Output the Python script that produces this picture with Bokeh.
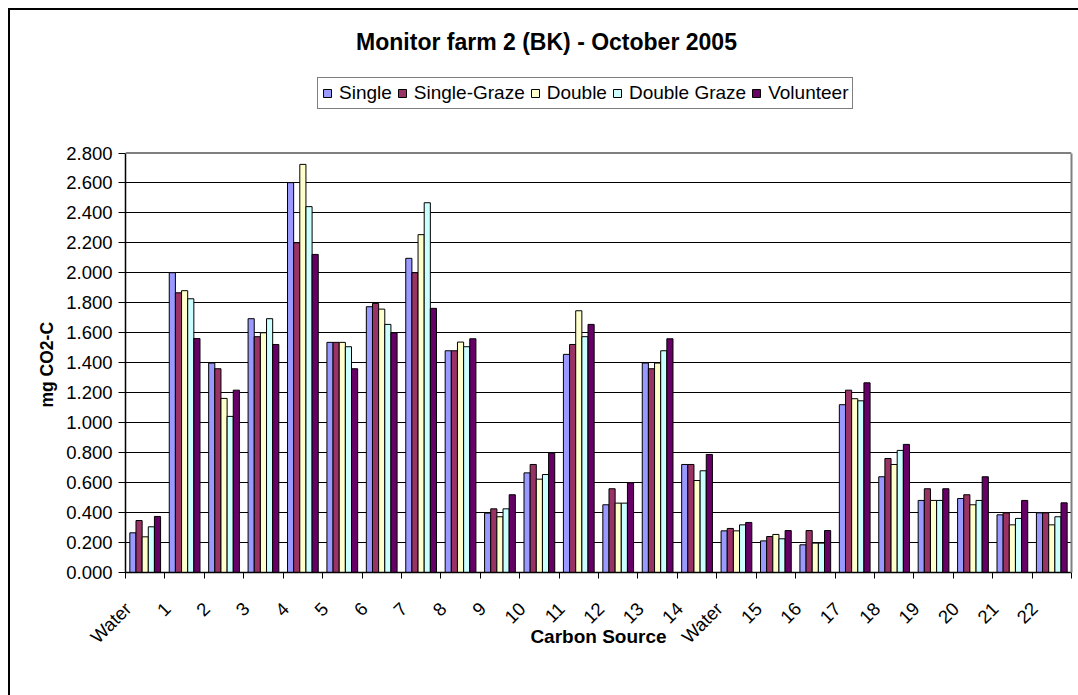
import numpy as np
from bokeh.plotting import figure
from bokeh.models import (FixedTicker, NumeralTickFormatter, Range1d, Legend, LegendItem,
                          Label, Span, LinearAxis, Title)
from bokeh.embed import file_html
from bokeh.resources import INLINE

# ---- data -------------------------------------------------------------
categories = ["Water", "1", "2", "3", "4", "5", "6", "7", "8", "9", "10", "11",
              "12", "13", "14", "Water", "15", "16", "17", "18", "19", "20", "21", "22"]
series_names = ["Single", "Single-Graze", "Double", "Double Graze", "Volunteer"]
single       = [0.265, 2.001, 1.398, 1.694, 2.602, 1.536, 1.774, 2.097, 1.480, 0.396, 0.665, 1.456,
                0.452, 1.398, 0.721, 0.278, 0.211, 0.185, 1.120, 0.639, 0.481, 0.494, 0.385, 0.398]
single_graze = [0.347, 1.867, 1.360, 1.574, 2.201, 1.536, 1.796, 2.001, 1.480, 0.425, 0.721, 1.522,
                0.559, 1.360, 0.721, 0.294, 0.240, 0.280, 1.217, 0.761, 0.559, 0.519, 0.398, 0.398]
double       = [0.238, 1.881, 1.162, 1.600, 2.724, 1.536, 1.758, 2.255, 1.538, 0.372, 0.623, 1.747,
                0.463, 1.398, 0.614, 0.278, 0.254, 0.196, 1.160, 0.721, 0.481, 0.452, 0.318, 0.318]
double_graze = [0.305, 1.827, 1.042, 1.694, 2.442, 1.507, 1.656, 2.468, 1.507, 0.425, 0.654, 1.574,
                0.463, 1.480, 0.679, 0.318, 0.225, 0.196, 1.146, 0.815, 0.481, 0.481, 0.361, 0.372]
volunteer    = [0.374, 1.562, 1.217, 1.522, 2.123, 1.360, 1.600, 1.763, 1.560, 0.519, 0.797, 1.656,
                0.599, 1.560, 0.788, 0.334, 0.280, 0.280, 1.266, 0.855, 0.559, 0.639, 0.481, 0.465]
series_values = [single, single_graze, double, double_graze, volunteer]
series_colors = ["#9999FF", "#993366", "#FFFFCC", "#CCFFFF", "#660066"]
y_ticks = [round(0.2 * i, 1) for i in range(15)]
y_max = 2.8

title_text = "Monitor farm 2 (BK) - October 2005"
x_title = "Carbon Source"
y_title = "mg CO2-C"

FONT = "Liberation Sans"

# ---- figure -----------------------------------------------------------
# frame = plot area plus a headroom band (for title and legend) above y_max
W, H = 1070, 687
FRAME_H, AREA_H = 552, 419.5
y_top = y_max * FRAME_H / AREA_H
p = figure(width=W, height=H, output_backend="svg", toolbar_location=None,
           x_range=Range1d(0, len(categories)), y_range=Range1d(0, y_top),
           min_border_left=117, min_border_right=7, min_border_top=12, min_border_bottom=123)
p.title.visible = False
p.styles = {"margin-left": "8px", "margin-top": "8px",
            "box-shadow": "inset 2px 2px 0 0 #000"}
p.background_fill_color = "white"
p.border_fill_color = None
p.outline_line_color = None

n = len(series_names)
bw = 0.156
centers = np.arange(len(categories)) + 0.5
items = []
for j, (name, vals, col) in enumerate(zip(series_names, series_values, series_colors)):
    xs = centers + (j - (n - 1) / 2) * bw
    r = p.vbar(x=xs, top=vals, width=bw, fill_color=col, line_color="black", line_width=1)
    items.append(LegendItem(label=name, renderers=[r]))

# grid
p.xgrid.visible = False
p.ygrid.ticker = FixedTicker(ticks=y_ticks[:-1])
p.ygrid.grid_line_color = "black"
p.ygrid.grid_line_width = 1
# top edge of the plot area (grey)
p.add_layout(Span(location=y_max, dimension="width", line_color="#808080", line_width=2))

# y axis
ya = p.yaxis[0]
ya.bounds = (0, y_max)
ya.ticker = FixedTicker(ticks=y_ticks)
ya.formatter = NumeralTickFormatter(format="0.000")
ya.axis_line_color = "black"
ya.axis_line_width = 1.5
ya.major_tick_out = 7
ya.major_tick_in = 0
ya.minor_tick_out = 0
ya.minor_tick_in = 0
ya.major_label_standoff = 6
ya.major_label_text_font = FONT
ya.major_label_text_font_size = "18.5px"
ya.major_label_text_color = "black"

# y-axis title, placed along the plot area (not the headroom band)
p.add_layout(Title(text=y_title, align="left", offset=165, standoff=14,
                   text_font=FONT, text_font_style="bold", text_font_size="17.5px",
                   text_color="black"), "left")

# right edge of the plot area (grey), as an unlabeled right axis
ra = LinearAxis(bounds=(0, y_max), ticker=FixedTicker(ticks=[]), axis_line_color="#808080",
                axis_line_width=2, major_tick_out=0, major_tick_in=0, minor_tick_out=0,
                minor_tick_in=0, major_label_text_font_size="0px")
p.add_layout(ra, "right")

# x axis
xa = p.xaxis[0]
label_pos = [i + 0.0625 for i in range(len(categories))]
xa.ticker = FixedTicker(ticks=label_pos, minor_ticks=list(range(len(categories) + 1)))
xa.major_label_overrides = {pos: lab for pos, lab in zip(label_pos, categories)}
xa.major_label_orientation = np.pi / 4
xa.major_tick_out = 0
xa.major_tick_in = 0
xa.minor_tick_out = 6
xa.minor_tick_in = 0
xa.minor_tick_line_color = "black"
xa.axis_line_color = "black"
xa.axis_line_width = 1.5
xa.major_label_standoff = 27
xa.major_label_text_font = FONT
xa.major_label_text_font_size = "18.5px"
xa.major_label_text_color = "black"
xa.axis_label = x_title
xa.axis_label_text_font = FONT
xa.axis_label_text_font_style = "bold"
xa.axis_label_text_font_size = "19px"
xa.axis_label_text_color = "black"
xa.axis_label_standoff = -32

# chart title inside the headroom band (screen units from frame bottom-left)
p.add_layout(Label(x=421, y=531, x_units="screen", y_units="screen", text=title_text,
                   text_font=FONT, text_font_style="bold", text_font_size="23px",
                   text_align="center", text_baseline="middle", text_color="black"))

# legend inside the headroom band
lg = Legend(items=items, orientation="horizontal", location=(192, 463))
lg.border_line_color = "black"
lg.border_line_width = 1
lg.background_fill_color = "white"
lg.background_fill_alpha = 1
lg.padding = 4
lg.margin = 0
lg.spacing = 5
lg.label_standoff = 7
lg.glyph_width = 10
lg.glyph_height = 10
lg.label_height = 18
lg.label_text_font = FONT
lg.label_text_font_size = "19px"
lg.label_text_color = "black"
p.add_layout(lg, "center")

open("out.html", "w").write(file_html(p, INLINE))
